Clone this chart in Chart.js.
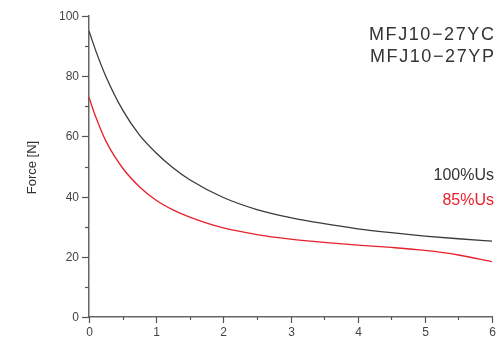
<!DOCTYPE html>
<html>
<head>
<meta charset="utf-8">
<script src="https://cdn.jsdelivr.net/npm/chart.js@4/dist/chart.umd.min.js"></script>
<style>
  html, body { margin: 0; padding: 0; background: #fff; }
  .wrap { position: relative; width: 497px; height: 342px; overflow: hidden; font-family: "Liberation Sans", Arial, sans-serif; }
  canvas { position: absolute; left: 0; top: 0; }
  .lbl { position: absolute; right: 3px; white-space: nowrap; line-height: 1; }
  .ttl { font-size: 18px; letter-spacing: 1.6px; right: 1.5px; color: #333; }
</style>
</head>
<body>
<div class="wrap">
  <canvas id="force-chart" width="497" height="342"></canvas>
  <div class="lbl ttl" style="top:25px">MFJ10−27YC</div>
  <div class="lbl ttl" style="top:47px">MFJ10−27YP</div>
  <div class="lbl" style="top:167px;font-size:16px;color:#333">100%Us</div>
  <div class="lbl" style="top:192px;font-size:16px;color:#e8202a">85%Us</div>
</div>
<script>
// stroke [mm] vs force [N]
const stroke = [0, 0.1, 0.25, 0.5, 0.75, 1, 1.25, 1.5, 2, 2.5, 3, 3.5, 4, 4.5, 5, 5.5, 6];
const force100 = [95, 88.5, 80, 68.8, 60.5, 54.5, 49.6, 45.6, 39.7, 35.7, 33, 31, 29.3, 28, 26.9, 26, 25.2];
const force85 = [73, 66.5, 58.5, 49.5, 43.3, 38.8, 35.6, 33.2, 29.6, 27.4, 25.9, 24.8, 23.9, 23.1, 22.1, 20.6, 18.4];
const yTicks = [0, 10, 20, 30, 40, 50, 60, 70, 80, 90, 100];
const xTicks = [0, 0.5, 1, 1.5, 2, 2.5, 3, 3.5, 4, 4.5, 5, 5.5, 6];

const pts = arr => arr.map((v, i) => ({ x: stroke[i], y: v }));

// axis ticks + labels (major/minor lengths differ, so drawn here)
const axisTicks = {
  id: 'axisTicks',
  afterDraw(chart) {
    const ctx = chart.ctx, xs = chart.scales.x, ys = chart.scales.y;
    ctx.save();
    ctx.strokeStyle = '#555';
    ctx.lineWidth = 1.2;
    ctx.fillStyle = '#444';
    ctx.font = '12px "Liberation Sans", Arial, sans-serif';

    const ax = xs.left;
    ctx.textAlign = 'right'; ctx.textBaseline = 'middle';
    yTicks.forEach(v => {
      const y = Math.round(ys.getPixelForValue(v)) + 0.5;
      const major = v % 20 === 0;
      ctx.beginPath();
      ctx.moveTo(ax - (major ? 7 : 4), y);
      ctx.lineTo(ax, y);
      ctx.stroke();
      if (major) ctx.fillText(String(v), ax - 10, y);
    });

    const ay = ys.bottom;
    ctx.textAlign = 'center'; ctx.textBaseline = 'top';
    xTicks.forEach(v => {
      const x = Math.round(xs.getPixelForValue(v)) + 0.5;
      const major = Number.isInteger(v);
      ctx.beginPath();
      ctx.moveTo(x, ay);
      ctx.lineTo(x, ay + (major ? 6 : 3));
      ctx.stroke();
      if (major) ctx.fillText(String(v), x, ay + 10);
    });

    // y title
    ctx.translate(32.5, 167.5);
    ctx.rotate(-Math.PI / 2);
    ctx.textAlign = 'center'; ctx.textBaseline = 'middle';
    ctx.fillStyle = '#333';
    ctx.font = '13px "Liberation Sans", Arial, sans-serif';
    ctx.fillText('Force [N]', 0, 0);
    ctx.restore();
  }
};

new Chart(document.getElementById('force-chart'), {
  type: 'line',
  data: {
    datasets: [
      { label: '100%Us', data: pts(force100), borderColor: '#3a3a3a', borderWidth: 1.3, pointRadius: 0, cubicInterpolationMode: 'monotone' },
      { label: '85%Us', data: pts(force85), borderColor: '#e8202a', borderWidth: 1.3, pointRadius: 0, cubicInterpolationMode: 'monotone' }
    ]
  },
  options: {
    responsive: false,
    animation: false,
    layout: { padding: { top: 16, right: 5, left: 0, bottom: 0 } },
    plugins: { legend: { display: false }, tooltip: { enabled: false } },
    scales: {
      x: {
        type: 'linear', min: 0, max: 6,
        grid: { display: false },
        border: { display: true, color: '#666', width: 1.5 },
        ticks: { display: false },
        afterFit: s => { s.height = 25; }
      },
      y: {
        min: 0, max: 100,
        grid: { display: false },
        border: { display: true, color: '#666', width: 1.5 },
        ticks: { display: false },
        afterFit: s => { s.width = 89; }
      }
    }
  },
  plugins: [axisTicks]
});
</script>
</body>
</html>
